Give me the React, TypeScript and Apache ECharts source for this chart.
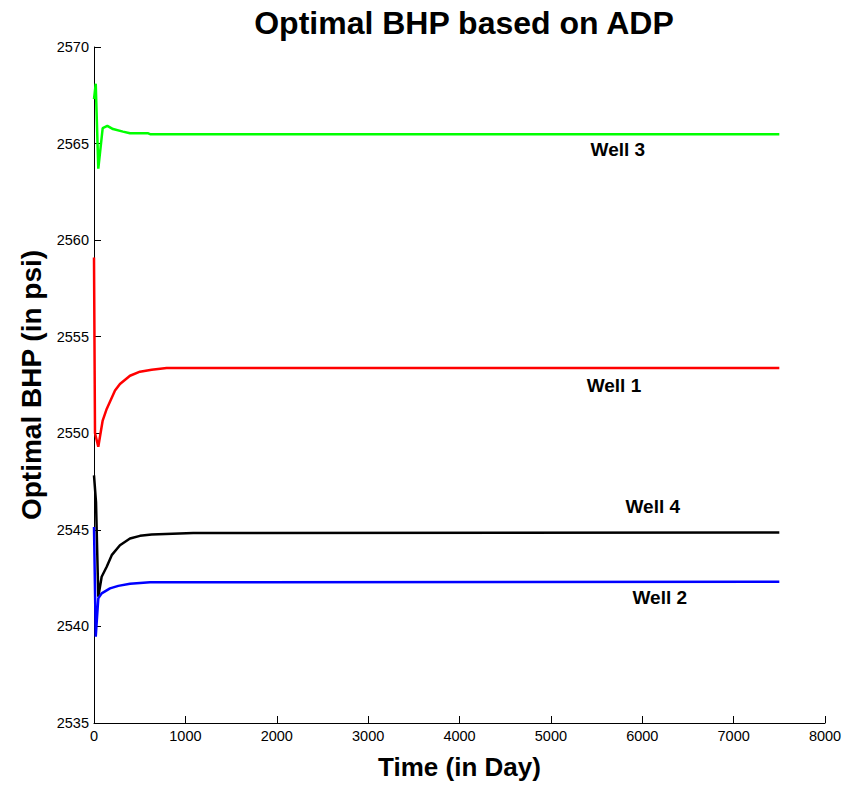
import React, { useEffect, useRef } from "react";
import * as echarts from "echarts";

const xTicks = [0, 1000, 2000, 3000, 4000, 5000, 6000, 7000, 8000];
const yTicks = [2535, 2540, 2545, 2550, 2555, 2560, 2565, 2570];

const well3: [number, number][] = [
  [0, 2567.3], [19, 2568.1], [47, 2563.7], [95, 2565.8], [146, 2565.92], [208, 2565.75],
  [317, 2565.62], [394, 2565.53], [594, 2565.53], [620, 2565.48], [7500, 2565.48],
];
const well1: [number, number][] = [
  [0, 2559.1], [11, 2550.0], [47, 2549.3], [95, 2550.66], [139, 2551.26], [230, 2552.21],
  [284, 2552.55], [394, 2552.98], [503, 2553.19], [631, 2553.29], [795, 2553.38], [7500, 2553.38],
];
const well4: [number, number][] = [
  [0, 2547.82], [22, 2546.44], [47, 2541.54], [84, 2542.57], [139, 2543.09], [194, 2543.69],
  [284, 2544.2], [394, 2544.55], [503, 2544.69], [631, 2544.76], [1086, 2544.84], [7500, 2544.86],
];
const well2: [number, number][] = [
  [0, 2545.15], [19, 2539.47], [47, 2541.45], [84, 2541.71], [175, 2541.97], [266, 2542.1],
  [394, 2542.21], [613, 2542.29], [7500, 2542.31],
];

const labelNames = ["Well 3", "Well 1", "Well 4", "Well 2"];
const labelCoords: [number, number][] = [
  [5733, 2564.68], [5690, 2552.5], [6115, 2546.23], [6192, 2541.5],
];

const FONT = "Liberation Sans, Arial, sans-serif";

export default function App() {
  const ref = useRef<HTMLDivElement>(null);
  useEffect(() => {
    if (!ref.current) return;
    const chart = echarts.init(ref.current, undefined, { renderer: "svg" });
    const mk = (name: string, data: [number, number][], color: string, idx: number) => ({
      name,
      type: "line",
      data,
      showSymbol: false,
      symbol: "none",
      lineStyle: { color, width: 2.5 },
      itemStyle: { color },
      markPoint: {
        symbol: "rect",
        symbolSize: [1, 1],
        itemStyle: { color: "rgba(0,0,0,0)" },
        label: {
          show: true,
          position: "inside",
          formatter: labelNames[idx],
          color: "#000",
          fontFamily: FONT,
          fontWeight: "bold",
          fontSize: 19,
        },
        data: [{ coord: labelCoords[idx] }],
      },
    });
    chart.setOption({
      animation: false,
      backgroundColor: "#fff",
      title: {
        text: "Optimal BHP based on ADP",
        left: 459,
        textAlign: "center",
        top: 2,
        textStyle: { fontFamily: FONT, fontWeight: "bold", fontSize: 32, color: "#000" },
      },
      grid: { left: 94, right: 33, top: 47, bottom: 60, containLabel: false },
      xAxis: {
        type: "value",
        min: xTicks[0],
        max: xTicks[xTicks.length - 1],
        interval: 1000,
        name: "Time (in Day)",
        nameLocation: "middle",
        nameGap: 31,
        nameTextStyle: { fontFamily: FONT, fontWeight: "bold", fontSize: 26, color: "#000" },
        axisLine: { lineStyle: { color: "#000", width: 1 } },
        axisTick: { inside: true, length: 7, lineStyle: { color: "#000" } },
        axisLabel: { fontFamily: FONT, fontSize: 14.5, color: "#000", margin: 5, formatter: (v: number) => String(v) },
        splitLine: { show: false },
      },
      yAxis: {
        type: "value",
        min: yTicks[0],
        max: yTicks[yTicks.length - 1],
        interval: 5,
        name: "Optimal BHP (in psi)",
        nameLocation: "middle",
        nameGap: 49,
        nameTextStyle: { fontFamily: FONT, fontWeight: "bold", fontSize: 28, color: "#000" },
        axisLine: { show: true, lineStyle: { color: "#000", width: 1 } },
        axisTick: { show: true, inside: true, length: 7, lineStyle: { color: "#000" } },
        axisLabel: { fontFamily: FONT, fontSize: 14.5, color: "#000", margin: 5, formatter: (v: number) => String(v) },
        splitLine: { show: false },
      },
      series: [
        mk("Well 3", well3, "#00ff00", 0),
        mk("Well 1", well1, "#ff0000", 1),
        mk("Well 4", well4, "#000000", 2),
        mk("Well 2", well2, "#0000ff", 3),
      ],
    });
    return () => chart.dispose();
  }, []);
  return <div ref={ref} style={{ width: 858, height: 785, position: "absolute", left: 0, top: 0 }} />;
}
